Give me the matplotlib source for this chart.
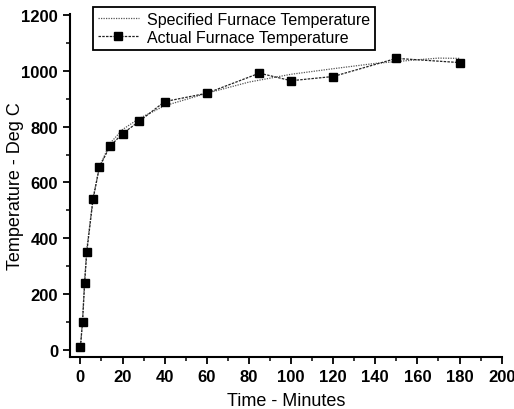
import matplotlib
matplotlib.use("Agg")
import matplotlib.pyplot as plt
from matplotlib.ticker import MultipleLocator

plt.rcParams['font.family'] = ['Liberation Sans', 'DejaVu Sans']

# Actual furnace temperature (measured points)
actual_time = [0, 1, 2, 3, 6, 9, 14, 20, 28, 40, 60, 85, 100, 120, 150, 180]
actual_temp = [10, 100, 240, 350, 540, 655, 730, 775, 820, 890, 920, 992, 965, 980, 1045, 1030]

# Specified furnace temperature (smooth schedule)
spec_time = [0, 1, 2, 3, 6, 9, 14, 20, 28, 40, 60, 80, 100, 120, 140, 160, 170, 180]
spec_temp = [10, 110, 250, 360, 545, 655, 740, 790, 830, 875, 920, 960, 988, 1008, 1027, 1040, 1046, 1045]

x_ticks = [0, 20, 40, 60, 80, 100, 120, 140, 160, 180, 200]
y_ticks = [0, 200, 400, 600, 800, 1000, 1200]

fig = plt.figure(figsize=(5.14, 4.10), dpi=100)
ax = fig.add_axes([0.136, 0.126, 0.840, 0.838])

ax.plot(spec_time, spec_temp, color='#555555', lw=0.9, ls=(0, (1, 1)),
        label='Specified Furnace Temperature')
ax.plot(actual_time, actual_temp, color='#222222', lw=0.9, ls=(0, (2, 1)),
        marker='s', ms=5.5, mfc='black', mec='black',
        label='Actual Furnace Temperature')

ax.set_xlim(-5, 200)
ax.set_ylim(-27, 1205)
ax.set_xticks(x_ticks)
ax.set_yticks(y_ticks)
ax.xaxis.set_minor_locator(MultipleLocator(10))
ax.yaxis.set_minor_locator(MultipleLocator(100))

for s in ['top', 'right']:
    ax.spines[s].set_visible(False)
for s in ['left', 'bottom']:
    ax.spines[s].set_linewidth(1.5)
    ax.spines[s].set_color('black')

ax.tick_params(which='major', direction='out', length=5, width=1.3, labelsize=12)
ax.tick_params(which='minor', direction='out', length=3, width=1.1)
for lab in ax.get_xticklabels() + ax.get_yticklabels():
    lab.set_fontweight('bold')
    lab.set_family(['Liberation Sans Narrow', 'Liberation Sans', 'DejaVu Sans'])

ax.set_xlabel('Time - Minutes', fontsize=13)
ax.set_ylabel('Temperature - Deg C', fontsize=13)
ax.xaxis.set_label_coords(0.5, -0.1)
ax.yaxis.set_label_coords(-0.107, 0.5)

leg = ax.legend(loc='upper left', bbox_to_anchor=(0.053, 1.02), fontsize=11.5,
                frameon=True, fancybox=False, handlelength=2.6,
                borderpad=0.3, labelspacing=0.2, handletextpad=0.5,
                borderaxespad=0)
leg.get_frame().set_edgecolor('black')
leg.get_frame().set_linewidth(1.3)
leg.get_frame().set_alpha(1)

fig.savefig('out.png', dpi=100)
